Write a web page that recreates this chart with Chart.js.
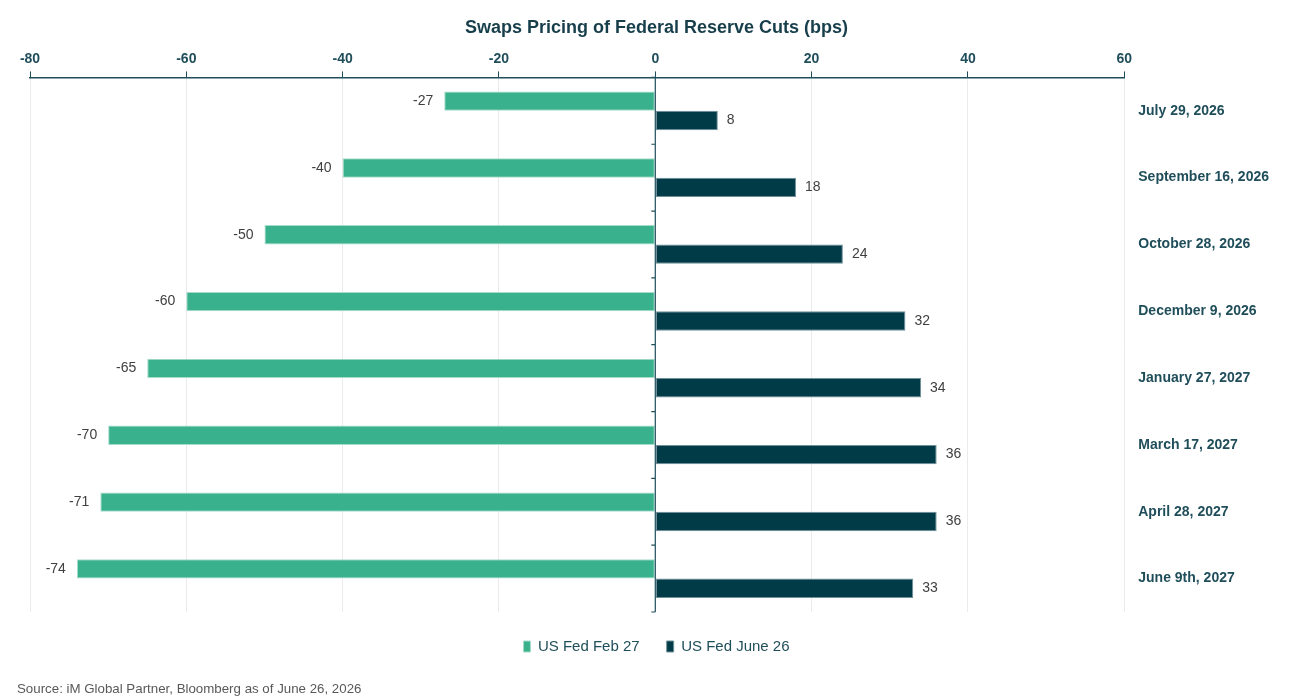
<!DOCTYPE html>
<html lang="en">
<head>
    <meta charset="UTF-8">
    <title>Swaps Pricing of Federal Reserve Cuts</title>
    <style>
        html, body { margin: 0; padding: 0; background: #fff; }
        #wrap { position: relative; width: 1296px; height: 698px; }
        #source {
            position: absolute; left: 17px; top: 681px;
            font: 13.3px "Liberation Sans", Arial, sans-serif; color: #595959;
        }
    </style>
</head>
<body>
    <div id="wrap">
        <canvas id="chart"></canvas>
        <div id="source">Source: iM Global Partner, Bloomberg as of June 26, 2026</div>
    </div>

    <script src="https://cdn.jsdelivr.net/npm/chart.js"></script>
    <script>
        // meeting dates (rows, top to bottom)
        const meetings = ['July 29, 2026', 'September 16, 2026', 'October 28, 2026', 'December 9, 2026',
                          'January 27, 2027', 'March 17, 2027', 'April 28, 2027', 'June 9th, 2027'];
        const fedFeb27 = [-27, -40, -50, -60, -65, -70, -71, -74];
        const fedJune26 = [8, 18, 24, 32, 34, 36, 36, 33];
        const xTicks = [-80, -60, -40, -20, 0, 20, 40, 60];

        const teal = '#1f4e5a';
        const green = '#39b18c';
        const dark = '#023b48';
        const font = '"Liberation Sans", Arial, sans-serif';

        // value labels next to the bar ends
        const barLabels = {
            id: 'barLabels',
            afterDatasetsDraw(chart) {
                const ctx = chart.ctx;
                ctx.save();
                ctx.font = '14px ' + font;
                ctx.fillStyle = '#404040';
                ctx.textBaseline = 'middle';
                chart.data.datasets.forEach((ds, i) => {
                    chart.getDatasetMeta(i).data.forEach((bar, j) => {
                        const v = ds.data[j];
                        if (v < 0) {
                            ctx.textAlign = 'right';
                            ctx.fillText(v, bar.x - 11, bar.y);
                        } else {
                            ctx.textAlign = 'left';
                            ctx.fillText(v, bar.x + 9, bar.y);
                        }
                    });
                });
                ctx.restore();
            }
        };

        // vertical zero line with small ticks between the rows
        const zeroAxis = {
            id: 'zeroAxis',
            afterDatasetsDraw(chart) {
                const ctx = chart.ctx;
                const x0 = chart.scales.x.getPixelForValue(0);
                const area = chart.chartArea;
                const n = meetings.length;
                const step = (area.bottom - area.top) / n;
                ctx.save();
                ctx.strokeStyle = teal;
                ctx.lineWidth = 1.2;
                ctx.beginPath();
                ctx.moveTo(x0, area.top);
                ctx.lineTo(x0, area.bottom);
                for (let k = 0; k <= n; k++) {
                    const y = area.top + k * step;
                    ctx.moveTo(x0 - 4, y);
                    ctx.lineTo(x0, y);
                }
                ctx.stroke();
                ctx.restore();
            }
        };

        new Chart(document.getElementById('chart'), {
            type: 'bar',
            data: {
                labels: meetings,
                datasets: [{
                    label: 'US Fed Feb 27',
                    data: fedFeb27,
                    backgroundColor: green,
                    borderColor: '#a6dcc9',
                    borderWidth: 1,
                    borderSkipped: false
                }, {
                    label: 'US Fed June 26',
                    data: fedJune26,
                    backgroundColor: dark,
                    borderColor: '#6f9099',
                    borderWidth: 1,
                    borderSkipped: false
                }]
            },
            options: {
                indexAxis: 'y',
                responsive: true,
                maintainAspectRatio: false,
                animation: false,
                categoryPercentage: 0.58,
                barPercentage: 1,
                layout: { padding: { left: 30, right: 13, top: 0, bottom: 34 } },
                scales: {
                    x: {
                        position: 'top',
                        min: -80,
                        max: 60,
                        afterBuildTicks(scale) {
                            scale.ticks = xTicks.map(v => ({ value: v }));
                        },
                        grid: {
                            color: '#ebebeb',
                            tickColor: teal,
                            tickLength: 6
                        },
                        border: { color: teal, width: 1.5 },
                        ticks: {
                            color: teal,
                            padding: 4,
                            font: { family: font, size: 14, weight: 'bold' }
                        }
                    },
                    y: {
                        position: 'right',
                        grid: { display: false, drawTicks: false, tickLength: 0 },
                        border: { display: false },
                        ticks: {
                            color: teal,
                            padding: 14,
                            font: { family: font, size: 14, weight: 'bold' }
                        }
                    }
                },
                plugins: {
                    title: {
                        display: true,
                        text: 'Swaps Pricing of Federal Reserve Cuts (bps)',
                        color: '#173e4b',
                        padding: { top: 17, bottom: 8 },
                        font: { family: font, size: 18, weight: 'bold' }
                    },
                    legend: {
                        position: 'bottom',
                        labels: {
                            color: teal,
                            boxWidth: 7,
                            boxHeight: 11,
                            padding: 27,
                            font: { family: font, size: 15 }
                        }
                    },
                    tooltip: { enabled: false }
                }
            },
            plugins: [barLabels, zeroAxis]
        });
    </script>
</body>
</html>
